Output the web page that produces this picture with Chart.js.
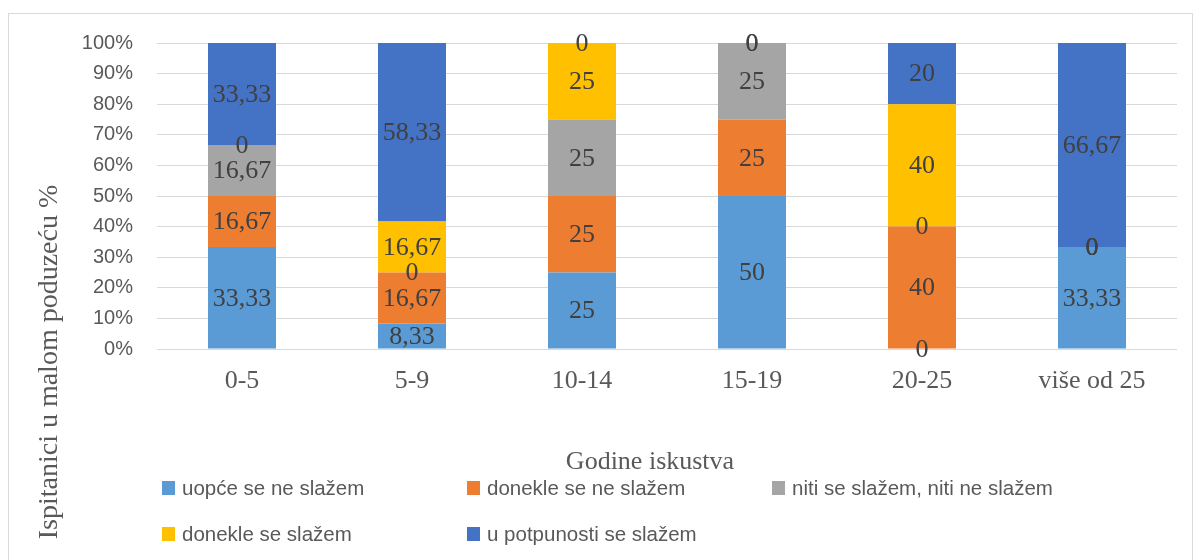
<!DOCTYPE html>
<html>
<head>
<meta charset="utf-8">
<script src="https://cdn.jsdelivr.net/npm/chart.js@4"></script>
<style>
  html, body { margin: 0; padding: 0; background: #fff; }
  #wrap { width: 1195px; height: 560px; position: relative; }
</style>
</head>
<body>
<div id="wrap"><canvas id="grafikon" width="1195" height="560"></canvas></div>
<script>
// Godine iskustva - stupci po kategorijama
const kategorije = ['0-5', '5-9', '10-14', '15-19', '20-25', 'više od 25'];

const uopceNe = [33.33, 8.33, 25, 50, 0, 33.33];
const donekleNe = [16.67, 16.67, 25, 25, 40, 0];
const nitiNiti = [16.67, 0, 25, 25, 0, 0];
const donekleDa = [0, 16.67, 25, 0, 40, 0];
const uPotpunosti = [33.33, 58.33, 0, 0, 20, 66.67];

const nazivi = ['uopće se ne slažem', 'donekle se ne slažem', 'niti se slažem, niti ne slažem',
                'donekle se slažem', 'u potpunosti se slažem'];
const boje = ['#5B9BD5', '#ED7D31', '#A5A5A5', '#FFC000', '#4472C4'];

const SERIF = "'Liberation Serif', 'Times New Roman', serif";
const SANS = "'Liberation Sans', Arial, sans-serif";

// natpisi vrijednosti u sredini segmenta
const oznakePlugin = {
    id: 'oznake',
    afterDatasetsDraw(chart) {
        const ctx = chart.ctx;
        ctx.save();
        ctx.font = '26px ' + SERIF;
        ctx.fillStyle = '#404040';
        ctx.textAlign = 'center';
        ctx.textBaseline = 'middle';
        chart.data.datasets.forEach((ds, i) => {
            const meta = chart.getDatasetMeta(i);
            meta.data.forEach((el, j) => {
                const txt = String(ds.data[j]).replace('.', ',');
                ctx.fillText(txt, el.x, (el.y + el.base) / 2 + 1);
            });
        });
        ctx.restore();
    }
};

// okvir, naslovi osi i legenda
const ukrasPlugin = {
    id: 'ukras',
    afterDraw(chart) {
        const ctx = chart.ctx;
        ctx.save();
        ctx.strokeStyle = '#D9D9D9';
        ctx.lineWidth = 1;
        ctx.strokeRect(8.5, 13.5, 1184, 560);

        ctx.fillStyle = '#595959';
        ctx.textAlign = 'center';
        ctx.textBaseline = 'middle';
        ctx.font = '26px ' + SERIF;
        ctx.fillText('Godine iskustva', 650, 462);

        ctx.translate(50, 362);
        ctx.rotate(-Math.PI / 2);
        ctx.font = '28px ' + SERIF;
        ctx.fillText('Ispitanici u malom poduzeću %', 0, 0);
        ctx.setTransform(1, 0, 0, 1, 0, 0);

        const stupciX = [162, 467, 772];
        const redoviY = [488, 534];
        ctx.font = '20.5px ' + SANS;
        ctx.textAlign = 'left';
        nazivi.forEach((n, i) => {
            const x = stupciX[i % 3];
            const y = redoviY[Math.floor(i / 3)];
            ctx.fillStyle = boje[i];
            ctx.fillRect(x, y - 7, 13, 14);
            ctx.fillStyle = '#595959';
            ctx.fillText(n, x + 20, y + 1);
        });
        ctx.restore();
    }
};

const serije = [uopceNe, donekleNe, nitiNiti, donekleDa, uPotpunosti];

new Chart(document.getElementById('grafikon'), {
    type: 'bar',
    data: {
        labels: kategorije,
        datasets: serije.map((s, i) => ({
            label: nazivi[i],
            data: s,
            backgroundColor: boje[i],
            borderWidth: 0,
            categoryPercentage: 1,
            barPercentage: 0.4
        }))
    },
    options: {
        responsive: false,
        animation: false,
        layout: { padding: { left: 0, top: 43, right: 18, bottom: 151 } },
        plugins: {
            legend: { display: false },
            tooltip: { enabled: false }
        },
        scales: {
            x: {
                stacked: true,
                grid: { display: false },
                border: { display: false },
                ticks: { color: '#595959', font: { family: SERIF, size: 26 }, padding: 9 },
                afterFit(scale) { scale.height = 60; }
            },
            y: {
                stacked: true,
                min: 0,
                max: 100,
                grid: { color: '#D9D9D9', drawTicks: false, lineWidth: 1 },
                border: { display: false },
                ticks: {
                    stepSize: 10,
                    color: '#595959',
                    font: { family: SANS, size: 20 },
                    padding: 24,
                    callback: v => v + '%'
                },
                afterFit(scale) { scale.width = 157; }
            }
        }
    },
    plugins: [oznakePlugin, ukrasPlugin]
});
</script>
</body>
</html>
